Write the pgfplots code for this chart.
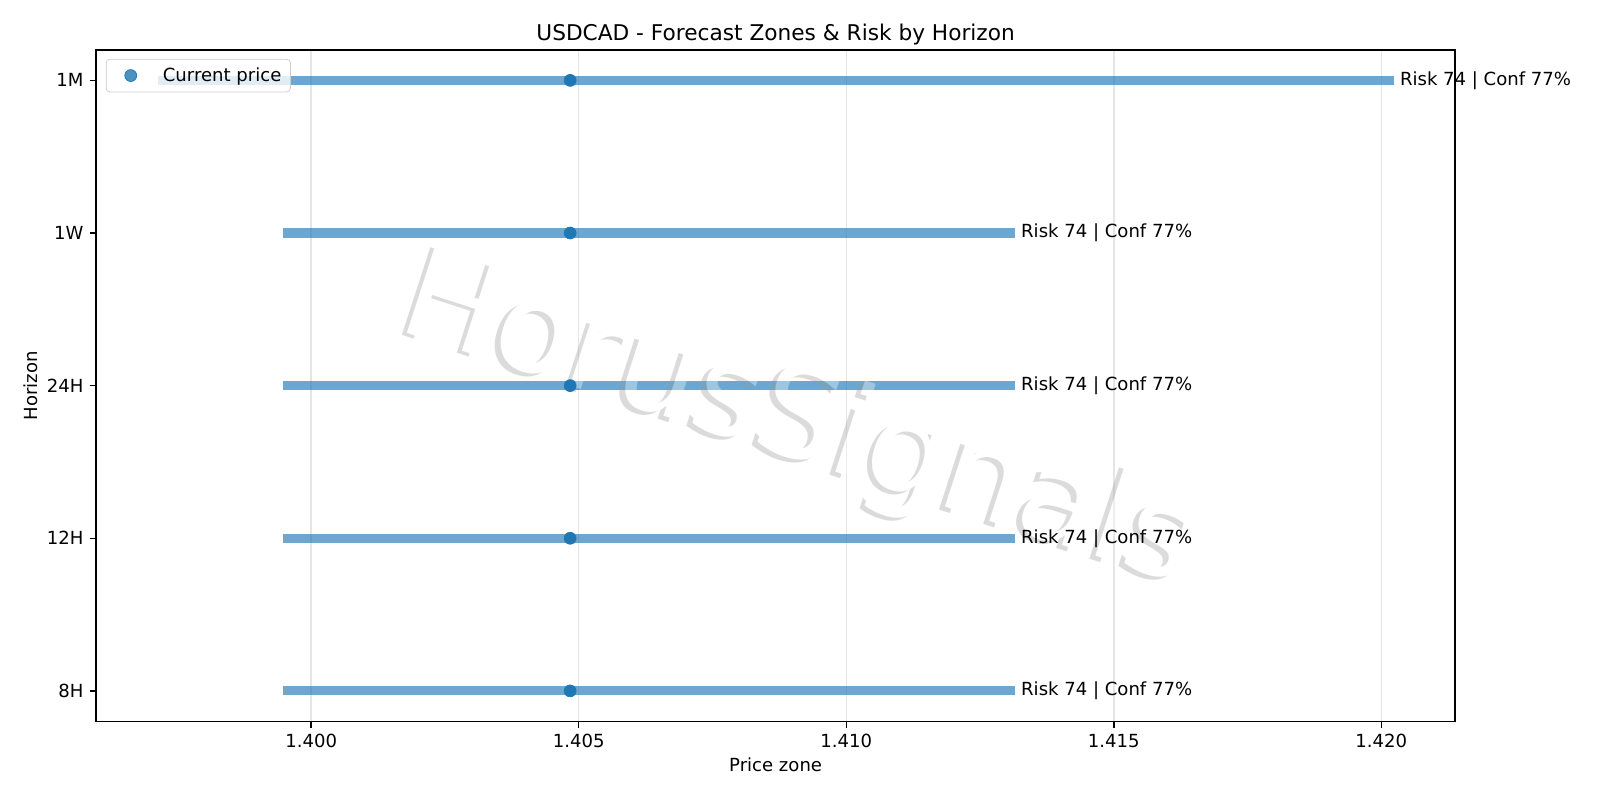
\documentclass[border=0pt]{standalone}
\usepackage{fontspec}
\setmainfont{DejaVu Sans}
\usepackage{pgfplots}
\pgfplotsset{compat=1.18}
\definecolor{tabblue}{HTML}{1F77B4}
\begin{document}
\begin{tikzpicture}
\path[use as bounding box] (-53.2pt,-43.5pt) rectangle (832.8pt,399.5pt);
\begin{axis}[
  at={(0,0)}, anchor=south west,
  scale only axis,
  width=752.6pt, height=371.9pt,
  xmin=1.39598, xmax=1.42138,
  ymin=-0.2, ymax=4.2,
  xtick={1.400,1.405,1.410,1.415,1.420},
  scaled x ticks=false,
  xticklabel style={/pgf/number format/.cd, fixed, fixed zerofill, precision=3},
  ytick={0,1,2,3,4},
  yticklabels={8H,12H,24H,1W,1M},
  /pgf/number format/assume math mode=true,
  tick align=outside,
  major tick length=3.5pt,
  tick style={black, line width=0.8pt},
  xtick pos=bottom, ytick pos=left,
  axis line style={black, line width=0.8pt},
  xmajorgrids,
  grid style={black!10, line width=0.8pt},
  tick label style={font=\fontsize{10}{12}\selectfont},
  label style={font=\fontsize{10}{12}\selectfont},
  xlabel={Price zone},
  ylabel={Horizon},
  xlabel style={at={(axis description cs:0.5,-0.0648)}, anchor=center},
  ylabel style={at={(axis description cs:-0.0481,0.5)}, anchor=center},
  title={USDCAD - Forecast Zones \& Risk by Horizon},
  title style={at={(axis description cs:0.5,1.0071)}, anchor=center, yshift=0pt, font=\fontsize{12}{14}\selectfont},
  legend style={at={(axis description cs:0,1)}, anchor=north west, xshift=5.4pt, yshift=-5pt,
    draw=black!20, rounded corners=2pt, fill=white, fill opacity=0.8, text opacity=1,
    font=\fontsize{10}{12}\selectfont, inner xsep=3pt, inner ysep=2.5pt},
  legend image code/.code={\path[draw=none, fill=none] (0pt,0pt) rectangle (26.4pt,0pt); \draw[#1] plot coordinates {(10.6pt,0pt)};},
  legend cell align=left,
  clip=false,
]
\addplot[tabblue, draw opacity=0.65, line width=5pt, forget plot] coordinates {(1.39948,0) (1.41316,0)};
\addplot[tabblue, draw opacity=0.65, line width=5pt, forget plot] coordinates {(1.39948,1) (1.41316,1)};
\addplot[tabblue, draw opacity=0.65, line width=5pt, forget plot] coordinates {(1.39948,2) (1.41316,2)};
\addplot[tabblue, draw opacity=0.65, line width=5pt, forget plot] coordinates {(1.39948,3) (1.41316,3)};
\addplot[tabblue, draw opacity=0.65, line width=5pt, forget plot] coordinates {(1.39714,4) (1.42024,4)};
\addplot[only marks, mark=*, mark size=3.3pt, color=tabblue, mark options={draw=tabblue, fill=tabblue}]
  coordinates {(1.40484,0) (1.40484,1) (1.40484,2) (1.40484,3) (1.40484,4)};
\addlegendentry{Current price}
\begin{scope}[transparency group, opacity=0.35]
\node[rotate=-18, text=gray!120!black, font=\fontsize{70}{72}\selectfont, inner sep=0pt, xshift=-2.5pt, yshift=-2.5pt]
  at (axis description cs:0.517,0.444) {HorusSignals};
\node[rotate=-18, text=white, font=\fontsize{70}{72}\selectfont, inner sep=0pt]
  at (axis description cs:0.517,0.444) {HorusSignals};
\end{scope}
\node[anchor=west, xshift=-0.3pt, font=\fontsize{10}{12}\selectfont] at (axis cs:1.41316,0) {Risk 74 | Conf 77\%};
\node[anchor=west, xshift=-0.3pt, font=\fontsize{10}{12}\selectfont] at (axis cs:1.41316,1) {Risk 74 | Conf 77\%};
\node[anchor=west, xshift=-0.3pt, font=\fontsize{10}{12}\selectfont] at (axis cs:1.41316,2) {Risk 74 | Conf 77\%};
\node[anchor=west, xshift=-0.3pt, font=\fontsize{10}{12}\selectfont] at (axis cs:1.41316,3) {Risk 74 | Conf 77\%};
\node[anchor=west, xshift=-0.3pt, font=\fontsize{10}{12}\selectfont] at (axis cs:1.42024,4) {Risk 74 | Conf 77\%};
\end{axis}
\end{tikzpicture}
\end{document}
